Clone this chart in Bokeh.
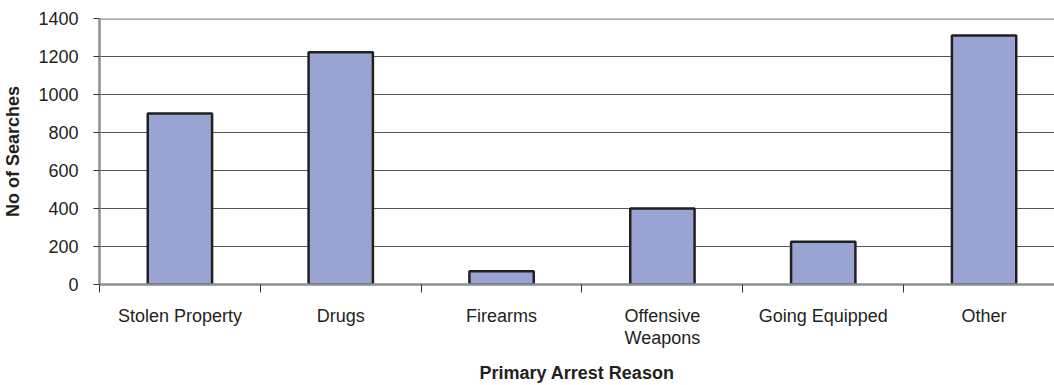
from bokeh.plotting import figure
from bokeh.models import FixedTicker, Span
from bokeh.embed import file_html
from bokeh.resources import INLINE

# Searches by primary arrest reason
categories = ["Stolen Property", "Drugs", "Firearms", "Offensive\nWeapons", "Going Equipped", "Other"]
searches = [900, 1222, 70, 400, 225, 1310]
y_ticks = [0, 200, 400, 600, 800, 1000, 1200, 1400]

FONT = "Liberation Sans"
TEXT = "#231f20"
AXIS_GRAY = "#8a8f94"

centers = [i + 0.5 for i in range(len(categories))]
boundaries = list(range(len(categories) + 1))

p = figure(
    width=1054, height=385,
    x_range=(0, 956 / 161), y_range=(0, 1400),
    output_backend="svg", toolbar_location=None,
    min_border_left=98, min_border_right=0,
    min_border_top=18, min_border_bottom=101,
    background_fill_color="white", border_fill_color="white",
)
p.outline_line_color = None

p.vbar(x=centers, top=searches, width=0.4,
       fill_color="#9aa4d2", line_color=TEXT, line_width=2.5)

# Horizontal gridlines
p.xgrid.grid_line_color = None
p.ygrid.ticker = FixedTicker(ticks=y_ticks)
p.ygrid.grid_line_color = "#555555"
p.ygrid.grid_line_width = 1

# Top edge of the plot area
p.add_layout(Span(location=1400, dimension="width",
                  line_color=AXIS_GRAY, line_width=2.5))

# Y axis
ya = p.yaxis[0]
ya.ticker = FixedTicker(ticks=y_ticks)
ya.axis_line_color = AXIS_GRAY
ya.axis_line_width = 2.5
ya.major_tick_line_color = "#333333"
ya.major_tick_out = 6
ya.major_tick_in = 0
ya.minor_tick_line_color = None
ya.major_label_standoff = 15
ya.major_label_text_font = FONT
ya.major_label_text_font_size = "18px"
ya.major_label_text_color = TEXT
ya.axis_label = "No of Searches"
ya.axis_label_text_font = FONT
ya.axis_label_text_font_size = "18px"
ya.axis_label_text_font_style = "bold"
ya.axis_label_text_color = TEXT
ya.axis_label_standoff = 12

# X axis: labels at category centres, tick marks at category boundaries
xa = p.xaxis[0]
xa.ticker = FixedTicker(ticks=centers, minor_ticks=boundaries)
xa.major_label_overrides = {c: name for c, name in zip(centers, categories)}
xa.axis_line_color = AXIS_GRAY
xa.axis_line_width = 2.5
xa.major_tick_line_color = None
xa.major_tick_out = 8
xa.minor_tick_line_color = "#333333"
xa.minor_tick_out = 8
xa.minor_tick_in = 0
xa.major_label_standoff = 13
xa.major_label_text_font = FONT
xa.major_label_text_font_size = "18px"
xa.major_label_text_line_height = 1.1
xa.major_label_text_color = TEXT
xa.axis_label = "Primary Arrest Reason"
xa.axis_label_text_font = FONT
xa.axis_label_text_font_size = "18px"
xa.axis_label_text_font_style = "bold"
xa.axis_label_text_color = TEXT
xa.axis_label_standoff = 12

open("out.html", "w").write(file_html(p, INLINE))
